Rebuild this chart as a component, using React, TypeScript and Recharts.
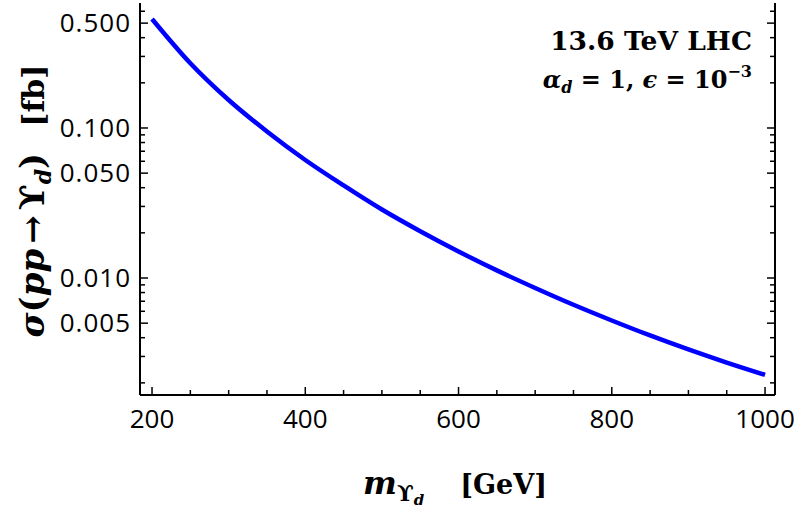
import React from 'react';
import { LineChart, Line, XAxis, YAxis } from 'recharts';

// resonance production cross section vs mass
const massGeV = [200, 250, 300, 350, 400, 450, 500, 550, 600, 650, 700, 750, 800, 850, 900, 950, 1000];
const sigmaFb = [0.533, 0.2702, 0.1537, 0.0948, 0.0612, 0.0414, 0.0286, 0.0205, 0.01502, 0.01124, 0.00858, 0.00663, 0.00521, 0.00414, 0.00334, 0.00273, 0.00226];

const xTicks = [200, 250, 300, 350, 400, 450, 500, 550, 600, 650, 700, 750, 800, 850, 900, 950, 1000];
const xLabeled = [200, 400, 600, 800, 1000];
const yTicks = [0.002, 0.003, 0.004, 0.005, 0.006, 0.007, 0.008, 0.009, 0.01, 0.02, 0.03, 0.04, 0.05, 0.06, 0.07, 0.08, 0.09, 0.1, 0.2, 0.3, 0.4, 0.5, 0.6];
const yLabeled = [0.005, 0.01, 0.05, 0.1, 0.5];

const data = massGeV.map((m, i) => ({ m, sigma: sigmaFb[i] }));

const TICK_FONT = '"Open Sans", sans-serif';
const SERIF = '"DejaVu Serif", serif';

const BottomTick = ({ x, y, payload }: any) => {
  const major = xLabeled.includes(payload.value);
  return (
    <g>
      <line x1={x} x2={x} y1={y} y2={y - (major ? 8 : 5)} stroke="#000" strokeWidth={1.5} />
      {major && (
        <text x={x} y={y + 33} textAnchor="middle" fontFamily={TICK_FONT} fontSize={26} fill="#000">
          {payload.value}
        </text>
      )}
    </g>
  );
};

const TopTick = ({ x, y, payload }: any) => {
  const major = xLabeled.includes(payload.value);
  return <line x1={x} x2={x} y1={y} y2={y + (major ? 8 : 5)} stroke="#000" strokeWidth={1.5} />;
};

const LeftTick = ({ x, y, payload }: any) => {
  const major = yLabeled.includes(payload.value);
  return (
    <g>
      <line x1={x} x2={x + (major ? 8 : 5)} y1={y} y2={y} stroke="#000" strokeWidth={1.5} />
      {major && (
        <text x={x - 9} y={y + 9} textAnchor="end" fontFamily={TICK_FONT} fontSize={26} letterSpacing={1} fill="#000">
          {payload.value.toFixed(3)}
        </text>
      )}
    </g>
  );
};

const RightTick = ({ x, y, payload }: any) => {
  const major = yLabeled.includes(payload.value);
  return <line x1={x} x2={x - (major ? 8 : 5)} y1={y} y2={y} stroke="#000" strokeWidth={1.5} />;
};

export default function App() {
  return (
    <div style={{ position: 'absolute', left: 0, top: 0, width: 797, height: 509, background: '#fff' }}>
      <LineChart width={797} height={509} data={data} margin={{ top: 3, right: 0, bottom: 0, left: 0 }}>
        <XAxis
          xAxisId="bottom"
          dataKey="m"
          type="number"
          domain={[184.3, 1013]}
          allowDataOverflow
          ticks={xTicks}
          interval={0}
          height={114}
          tickSize={0}
          tickMargin={0}
          tickLine={false}
          axisLine={{ stroke: '#000', strokeWidth: 2 }}
          tick={<BottomTick />}
        />
        <XAxis
          xAxisId="top"
          orientation="top"
          dataKey="m"
          type="number"
          domain={[184.3, 1013]}
          allowDataOverflow
          ticks={xTicks}
          interval={0}
          height={0}
          tickSize={0}
          tickMargin={0}
          tickLine={false}
          axisLine={{ stroke: '#000', strokeWidth: 2 }}
          tick={<TopTick />}
        />
        <YAxis
          yAxisId="left"
          scale="log"
          type="number"
          domain={[0.00166, 0.681]}
          allowDataOverflow
          ticks={yTicks}
          interval={0}
          width={140}
          tickSize={0}
          tickMargin={0}
          tickLine={false}
          axisLine={{ stroke: '#000', strokeWidth: 2 }}
          tick={<LeftTick />}
        />
        <YAxis
          yAxisId="right"
          orientation="right"
          scale="log"
          type="number"
          domain={[0.00166, 0.681]}
          allowDataOverflow
          ticks={yTicks}
          interval={0}
          width={22}
          tickSize={0}
          tickMargin={0}
          tickLine={false}
          axisLine={{ stroke: '#000', strokeWidth: 2 }}
          tick={<RightTick />}
        />
        <Line
          xAxisId="top"
          yAxisId="right"
          dataKey="sigma"
          stroke="none"
          dot={false}
          isAnimationActive={false}
        />
        <Line
          xAxisId="bottom"
          yAxisId="left"
          type="monotone"
          dataKey="sigma"
          stroke="#0000ff"
          strokeWidth={4.5}
          dot={false}
          isAnimationActive={false}
        />
        <text x={752} y={50} textAnchor="end" fontFamily={SERIF} fontWeight="bold" fontSize={26.5} fill="#000">
          13.6 TeV LHC
        </text>
        <text x={752} y={88} textAnchor="end" fontFamily={SERIF} fontWeight="bold" fontSize={24} fill="#000">
          <tspan fontStyle="italic">α</tspan>
          <tspan fontStyle="italic" fontSize={16} dy={5}>d</tspan>
          <tspan dy={-5}> = 1, </tspan>
          <tspan fontStyle="italic">ϵ</tspan>
          <tspan> = 10</tspan>
          <tspan fontSize={16} dy={-11}>−3</tspan>
        </text>
        <text x={455} y={494} textAnchor="middle" fontFamily={SERIF} fontWeight="bold" fontSize={32} fill="#000">
          <tspan fontStyle="italic">m</tspan>
          <tspan fontSize={22} dy={7}>ϒ</tspan>
          <tspan fontStyle="italic" fontSize={15} dy={4}>d</tspan>
          <tspan fontSize={27} dy={-11} dx={36}>[GeV]</tspan>
        </text>
        <text
          transform="rotate(-90)"
          x={-201}
          y={44}
          textAnchor="middle"
          fontFamily={SERIF}
          fontWeight="bold"
          fontSize={34}
          fill="#000"
        >
          <tspan fontStyle="italic">σ</tspan>
          <tspan>(</tspan>
          <tspan fontStyle="italic">pp</tspan>
          <tspan dx={5}>→</tspan>
          <tspan dx={5}>ϒ</tspan>
          <tspan fontStyle="italic" fontSize={22} dy={7}>d</tspan>
          <tspan dy={-7}>)</tspan>
          <tspan fontSize={30} dx={26}>[fb]</tspan>
        </text>
      </LineChart>
    </div>
  );
}
